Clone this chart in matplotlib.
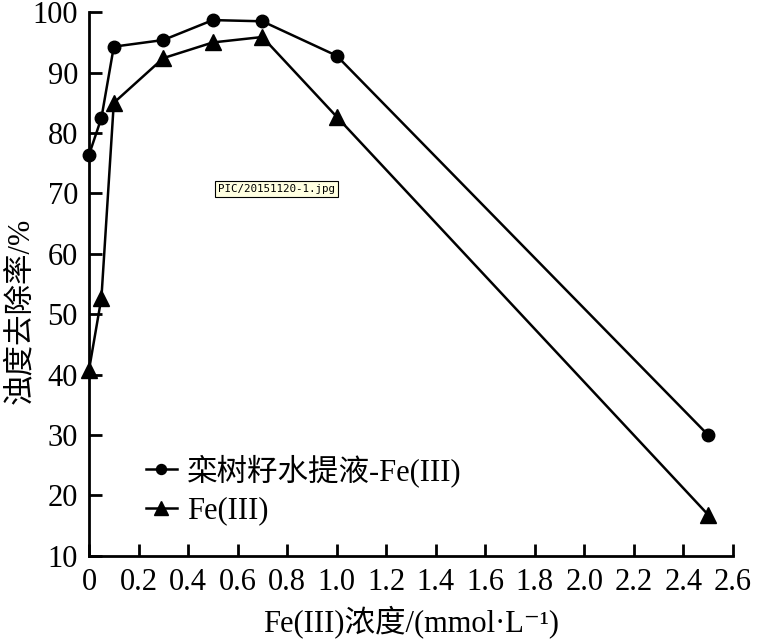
import matplotlib
matplotlib.use("Agg")
import matplotlib.pyplot as plt

plt.rcParams['font.family'] = ['Liberation Serif', 'Noto Sans CJK SC', 'DejaVu Sans']

conc = [0, 0.05, 0.1, 0.3, 0.5, 0.7, 1.0, 2.5]
extract_fe = [76.4, 82.5, 94.3, 95.4, 98.7, 98.5, 92.8, 30.0]
fe_only = [40.8, 52.7, 85.0, 92.4, 95.0, 95.9, 82.7, 16.8]
xticks = [0, 0.2, 0.4, 0.6, 0.8, 1.0, 1.2, 1.4, 1.6, 1.8, 2.0, 2.2, 2.4, 2.6]
xticklabels = ['0', '0.2', '0.4', '0.6', '0.8', '1.0', '1.2', '1.4', '1.6', '1.8', '2.0', '2.2', '2.4', '2.6']
yticks = [10, 20, 30, 40, 50, 60, 70, 80, 90, 100]
label1 = '栾树籽水提液-Fe(III)'
label2 = 'Fe(III)'

fig = plt.figure(figsize=(7.61, 6.44), dpi=100)
ax = fig.add_axes([0.117, 0.137, 0.846, 0.844])

ax.plot(conc, extract_fe, color='black', lw=1.8, marker='o', ms=9, label=label1, clip_on=False)
ax.plot(conc, fe_only, color='black', lw=1.8, marker='^', ms=12, label=label2, clip_on=False)

ax.set_xlim(0, 2.6)
ax.set_ylim(10, 100)
ax.set_xticks(xticks)
ax.set_xticklabels(xticklabels)
ax.set_yticks(yticks)
for s in ['top', 'right']:
    ax.spines[s].set_visible(False)
for s in ['left', 'bottom']:
    ax.spines[s].set_linewidth(2)
ax.tick_params(direction='in', length=9, width=2, labelsize=22)
ax.tick_params(axis='x', pad=9)
ax.tick_params(axis='y', pad=8)

ax.set_xlabel('Fe(III)浓度/(mmol·L⁻¹)', fontsize=22, labelpad=6)
ax.set_ylabel('浊度去除率/%', fontsize=22, labelpad=2)
ax.yaxis.set_label_coords(-0.084, 0.45)

leg = ax.legend(loc='upper left', bbox_to_anchor=(0.065, 0.215), frameon=False,
                fontsize=22, handlelength=1.0, handletextpad=0.35, labelspacing=0.3,
                markerscale=0.8, borderpad=0)

ax.text(0.2, 0.675, 'PIC/20151120-1.jpg', transform=ax.transAxes, fontsize=7.8,
        family='DejaVu Sans Mono', ha='left', va='center',
        bbox=dict(boxstyle='square,pad=0.3', facecolor='#ffffe1', edgecolor='black', lw=0.8))

fig.savefig('out.png', dpi=100)
